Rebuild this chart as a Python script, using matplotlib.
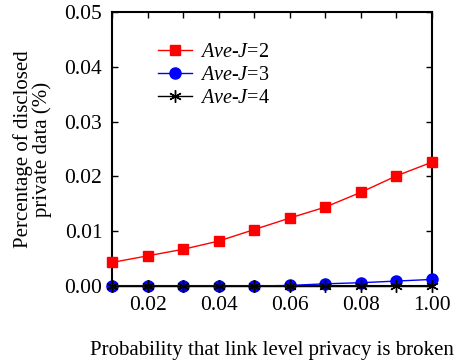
import matplotlib
matplotlib.use("Agg")
import matplotlib.pyplot as plt

x = [0.01, 0.02, 0.03, 0.04, 0.05, 0.06, 0.07, 0.08, 0.09, 0.10]
ave_j2 = [0.0043, 0.0055, 0.0067, 0.0082, 0.0103, 0.0124, 0.0144, 0.0171, 0.0201, 0.0226]
ave_j3 = [0.0, 0.0, 0.0, 0.0, 0.0, 0.0001, 0.0004, 0.0006, 0.0009, 0.0012]
ave_j4 = [0.0, 0.0, 0.0, 0.0, 0.0, 0.0, 0.0, 0.0, 0.0, 0.0]
xtick_pos = [0.01, 0.02, 0.03, 0.04, 0.05, 0.06, 0.07, 0.08, 0.09, 0.10]
xtick_labels = ["", "0.02", "", "0.04", "", "0.06", "", "0.08", "", "1.00"]
ytick_pos = [0.00, 0.01, 0.02, 0.03, 0.04, 0.05]
ytick_labels = ["0.00", "0.01", "0.02", "0.03", "0.04", "0.05"]

plt.rcParams['font.family'] = ['Liberation Serif', 'DejaVu Serif']
plt.rcParams['mathtext.fontset'] = 'custom'
plt.rcParams['mathtext.it'] = 'Liberation Serif:italic'
plt.rcParams['mathtext.rm'] = 'Liberation Serif'

fig = plt.figure(figsize=(4.58, 3.61), dpi=100)
ax = fig.add_axes([112/458, 75/361, 320/458, 274/361])

ax.plot(x, ave_j2, color='#ff0000', lw=1.0, marker='s', ms=7, label=r'$\mathit{Ave}$-$\mathit{J}$=2', clip_on=False, zorder=3)
ax.plot(x, ave_j3, color='#0000ff', lw=1.0, marker='o', ms=8, label=r'$\mathit{Ave}$-$\mathit{J}$=3', clip_on=False, zorder=4)
ax.plot(x, ave_j4, color='#000000', lw=1.0, marker=(6, 2, 0), ms=9, mew=1.0, label=r'$\mathit{Ave}$-$\mathit{J}$=4', clip_on=False, zorder=5)

ax.set_xlim(0.01, 0.10)
ax.set_ylim(0.0, 0.05)
ax.set_xticks(xtick_pos)
ax.set_xticklabels(xtick_labels)
ax.set_yticks(ytick_pos)
ax.set_yticklabels(ytick_labels)
ax.tick_params(direction='in', top=True, right=True, labelsize=15.5, length=4, width=1)
ax.tick_params(axis='y', pad=7)
ax.tick_params(axis='x', pad=7)
for s in ax.spines.values():
    s.set_linewidth(1.5)

ax.set_xlabel('Probability that link level privacy is broken', fontsize=15, labelpad=19)
ax.set_ylabel('Percentage of disclosed\nprivate data (%)', fontsize=15, labelpad=9, linespacing=0.95)

leg = ax.legend(loc='upper left', bbox_to_anchor=(0.1, 0.94), frameon=False, fontsize=14.5,
                handlelength=1.7, handletextpad=0.4, labelspacing=0.2, borderpad=0.2)

fig.savefig('out.png', dpi=100)
